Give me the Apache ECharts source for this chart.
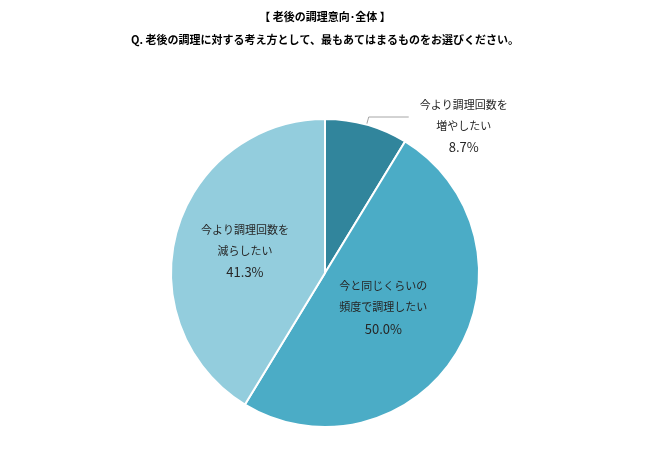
<!DOCTYPE html>
<html>
<head>
<meta charset="utf-8">
<script src="https://cdn.jsdelivr.net/npm/echarts@6/dist/echarts.min.js"></script>
<style>
  html, body { margin: 0; padding: 0; background: #fff; }
  #chart { width: 650px; height: 470px; }
</style>
</head>
<body>
<div id="chart"></div>
<script>
var titleLines = ['【 老後の調理意向･全体 】', 'Q. 老後の調理に対する考え方として、最もあてはまるものをお選びください。'];
var categories = [
  '今より調理回数を\n増やしたい',
  '今と同じくらいの\n頻度で調理したい',
  '今より調理回数を\n減らしたい'
];
var values = [8.7, 50.0, 41.3];
var colors = ['#31859c', '#4bacc6', '#93cddd'];

var font = '"Noto Sans CJK JP", "Noto Sans", sans-serif';

var chart = echarts.init(document.getElementById('chart'));

function labelText(p) {
  var lines = p.name.split('\n').map(function (s) { return '{n|' + s + '}'; });
  lines.push('{p|' + p.value.toFixed(1) + '%}');
  return lines.join('\n');
}

var rich = {
  n: { fontSize: 11, lineHeight: 21, align: 'center', color: '#262626', fontFamily: font },
  p: { fontSize: 13, lineHeight: 22, align: 'center', color: '#262626', fontFamily: font }
};

// small nudges so the labels sit where the original puts them
var labelShift = [[7, 9], [-10, -7], [-3, 0]];

chart.setOption({
  animation: false,
  backgroundColor: '#fff',
  title: {
    text: titleLines.map(function (s) { return '{t|' + s + '}'; }).join('\n'),
    left: 'center',
    top: 5,
    padding: 0,
    textStyle: {
      rich: {
        t: { fontSize: 11, fontWeight: 'bold', color: '#000', lineHeight: 23, align: 'center', fontFamily: font }
      }
    }
  },
  series: [{
    type: 'pie',
    center: [325, 273],
    radius: 154,
    startAngle: 90,
    clockwise: true,
    itemStyle: { borderColor: '#fff', borderWidth: 2 },
    labelLine: { lineStyle: { color: '#a6a6a6', width: 1 } },
    labelLayout: function (p) {
      var s = labelShift[p.dataIndex];
      return { dx: s[0], dy: s[1] };
    },
    data: categories.map(function (c, i) {
      var d = { name: c, value: values[i], itemStyle: { color: colors[i] } };
      if (i === 0) {
        d.label = { position: 'outside', formatter: labelText, rich: rich, distanceToLabelLine: 4 };
        d.labelLine = { show: true, length: 8, length2: 40 };
      } else {
        d.label = { position: 'inside', formatter: labelText, rich: rich };
        d.labelLine = { show: false };
      }
      return d;
    })
  }]
});
</script>
</body>
</html>
